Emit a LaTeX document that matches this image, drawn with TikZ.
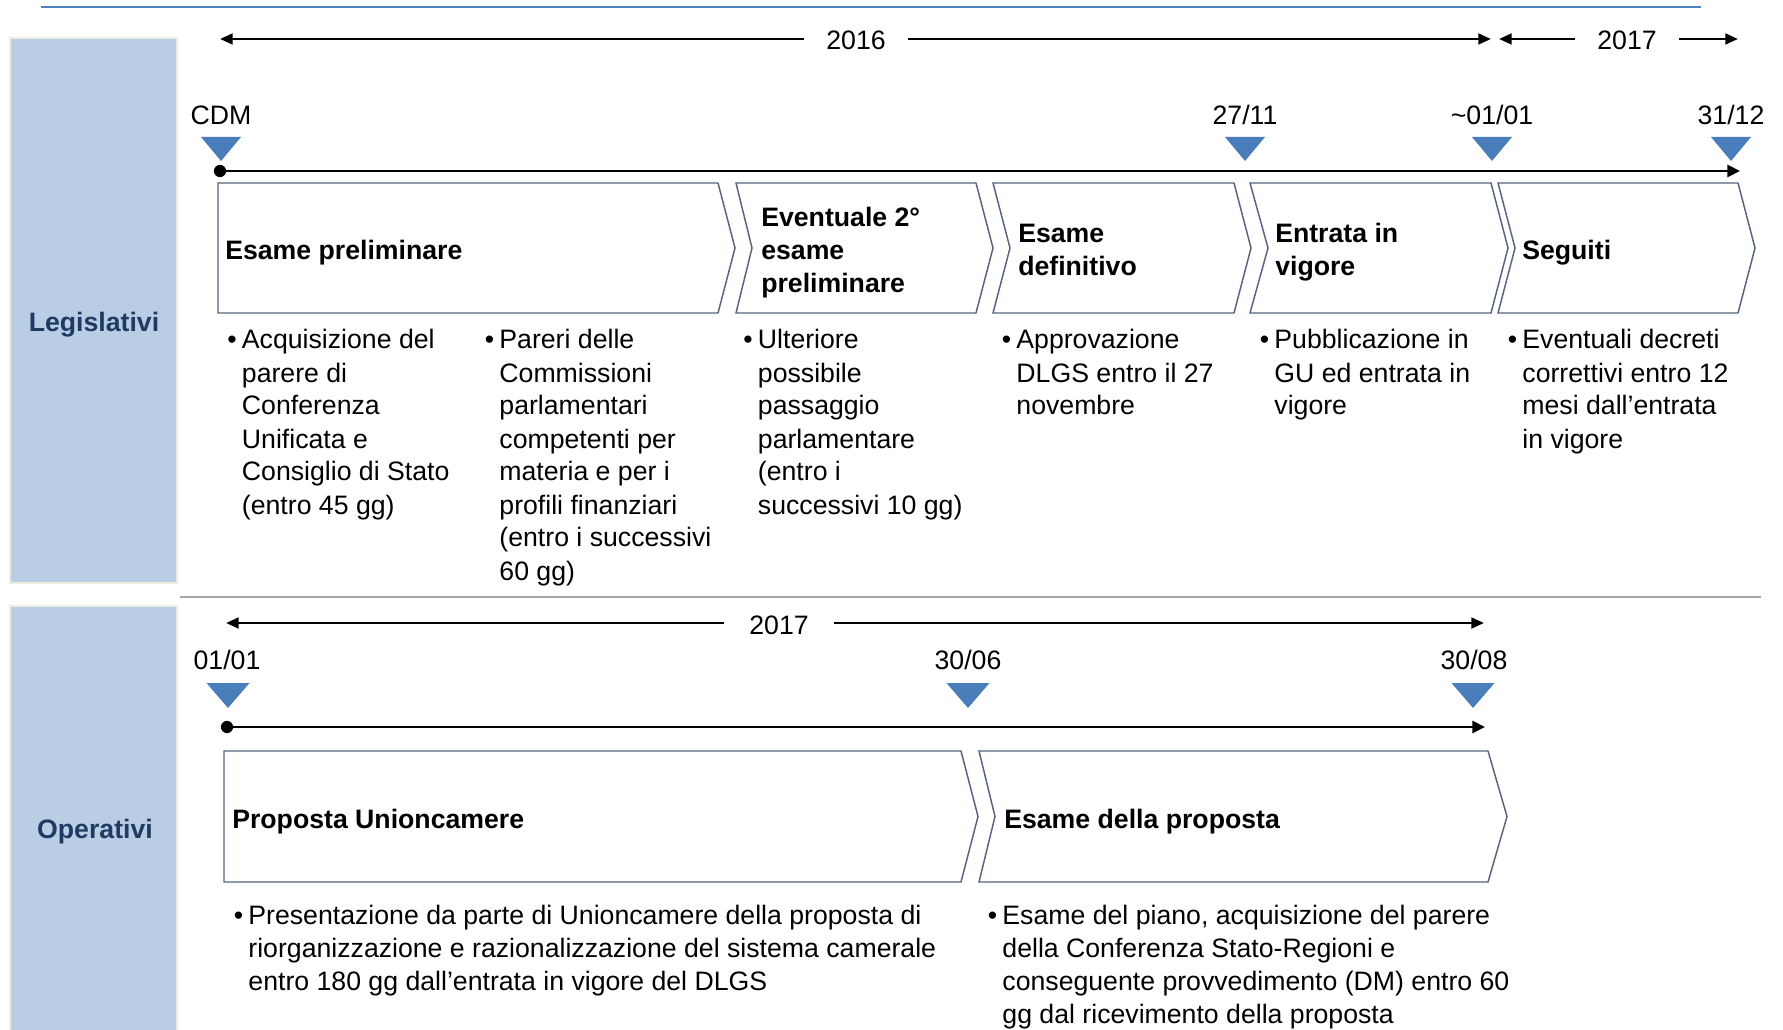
\documentclass[tikz,border=0pt]{standalone}
\usepackage{fontspec}
\setmainfont{Liberation Sans}
\usetikzlibrary{arrows.meta}
\definecolor{bandfill}{HTML}{B9CDE5}
\definecolor{bandedge}{HTML}{EEECE1}
\definecolor{bandtext}{HTML}{1F3B63}
\definecolor{topblue}{HTML}{4F81BD}
\definecolor{mkblue}{HTML}{4A7EBB}
\definecolor{chevedge}{HTML}{56657E}
\definecolor{sepgray}{HTML}{A6A6A6}
\newcommand\bulcol[1]{\begin{minipage}[t]{650pt}\hangindent=11pt\hangafter=1\noindent\makebox[11pt][l]{\textbullet}#1\end{minipage}}
\newcommand\titcol[1]{\begin{minipage}[t]{300pt}\raggedright\bfseries\fontsize{20}{24.4}\selectfont #1\end{minipage}}
\newcommand\chev[7]{\draw[chevline] (#1,#5) -- (#3,#5) -- (#4,#6) -- (#3,#7) -- (#1,#7) -- (#2,#6) -- cycle;}
\newcommand\mtri[4]{\fill[mkblue] ({#1-#4},#2) -- ({#1+#4},#2) -- (#1,#3) -- cycle;}
\begin{document}
\begin{tikzpicture}[x=0.75pt,y=-0.75pt,
  chevline/.style={draw=chevedge, line width=1.1pt, fill=white, line join=miter},
  yarr/.style={line width=2pt, -{Triangle[length=9.5pt,width=8pt]}},
  tline/.style={line width=2.2pt, -{Triangle[length=9.5pt,width=9pt]}},
  lab/.style={font=\fontsize{20}{24.75}\selectfont, inner sep=0pt, anchor=base},
  yearlab/.style={font=\fontsize{20}{24.75}\selectfont, inner ysep=0pt, inner xsep=16.5pt, anchor=base},
  body/.style={font=\fontsize{20}{24.75}\selectfont, inner sep=0pt, anchor=base west},
  bandlab/.style={font=\fontsize{20}{24.75}\selectfont\bfseries, text=bandtext, inner sep=0pt, anchor=base}]
\useasboundingbox (0,0) rectangle (1783,1030);
% top rule
\coordinate (r1) at (41,7); \coordinate (r2) at (1701,7);
\draw[topblue, line width=2pt] (r1) -- (r2);
% side bands
\fill[bandfill] (10,38) rectangle (177,583);
\draw[bandedge, line width=1.5pt] (10,38) rectangle (177,583);
\fill[bandfill] (10,606) rectangle (177,1030);
\draw[bandedge, line width=1.5pt] (10,1031) -- (10,606) -- (177,606) -- (177,1031);
\node[bandlab] (leg) at (94,331) {Legislativi};
\node[bandlab] (ope) at (95,838) {Operativi};
% separator
\coordinate (s1) at (180,597); \coordinate (s2) at (1761,597);
\draw[sepgray, line width=2.2pt] (s1) -- (s2);

% ===== Legislativi =====
\coordinate (y16l) at (220,39); \coordinate (y16r) at (1491,39);
\node[yearlab] (y16) at (856,50) {2016};
\draw[yarr] (y16.west |- y16l) -- (y16l);
\draw[yarr] (y16.east |- y16r) -- (y16r);
\coordinate (y17l) at (1499,39); \coordinate (y17r) at (1738,39);
\node[yearlab] (y17) at (1627,50) {2017};
\draw[yarr] (y17.west |- y17l) -- (y17l);
\draw[yarr] (y17.east |- y17r) -- (y17r);

\node[lab] (mcdm) at (221,125) {CDM};
\node[lab] (m2711) at (1245,125) {27/11};
\node[lab] (m0101) at (1492,125) {\textasciitilde 01/01};
\node[lab] (m3112) at (1731,125) {31/12};
\mtri{221}{137}{161}{20}
\mtri{1245}{137}{161}{20}
\mtri{1492}{137}{161}{20}
\mtri{1731}{137}{161}{20}

\coordinate (t1s) at (220,171); \coordinate (t1e) at (1740,171);
\draw[tline] (t1s) -- (t1e);
\fill (t1s) circle[radius=4.6pt];

\chev{218}{218}{718}{735}{183}{248}{313}
\chev{736}{752}{976}{993}{183}{248}{313}
\chev{993}{1010}{1234}{1251}{183}{248}{313}
\chev{1250}{1268}{1491}{1508}{183}{248}{313}
\chev{1498}{1515}{1738}{1755}{183}{248}{313}

\node[body] (c1) at (225,260) {\titcol{Esame preliminare}};
\node[body] (c2) at (761,227) {\titcol{Eventuale 2°\\esame\\preliminare}};
\node[body] (c3) at (1018,243) {\titcol{Esame\\definitivo}};
\node[body] (c4) at (1275,243) {\titcol{Entrata in\\vigore}};
\node[body] (c5) at (1522,260) {\titcol{Seguiti}};

\node[body] (b1) at (227,349) {\bulcol{Acquisizione del\\parere di\\Conferenza\\Unificata e\\Consiglio di Stato\\(entro 45 gg)}};
\node[body] (b2) at (484.5,349) {\bulcol{Pareri delle\\Commissioni\\parlamentari\\competenti per\\materia e per i\\profili finanziari\\(entro i successivi\\60 gg)}};
\node[body] (b3) at (743,349) {\bulcol{Ulteriore\\possibile\\passaggio\\parlamentare\\(entro i\\successivi 10 gg)}};
\node[body] (b4) at (1001.5,349) {\bulcol{Approvazione\\DLGS entro il 27\\novembre}};
\node[body] (b5) at (1259.5,349) {\bulcol{Pubblicazione in\\GU ed entrata in\\vigore}};
\node[body] (b6) at (1507.5,349) {\bulcol{Eventuali decreti\\correttivi entro 12\\mesi dall’entrata\\in vigore}};

% ===== Operativi =====
\coordinate (z17l) at (226,623); \coordinate (z17r) at (1484,623);
\node[yearlab, inner xsep=18.5pt] (z17) at (779,634) {2017};
\draw[yarr] (z17.west |- z17l) -- (z17l);
\draw[yarr] (z17.east |- z17r) -- (z17r);

\node[lab] (n0101) at (227,669) {01/01};
\node[lab] (n3006) at (968,669) {30/06};
\node[lab] (n3008) at (1474,669) {30/08};
\mtri{228}{683}{708}{21.5}
\mtri{968}{683}{708}{21.5}
\mtri{1473}{683}{708}{21.5}

\coordinate (t2s) at (227,727); \coordinate (t2e) at (1485,727);
\draw[tline] (t2s) -- (t2e);
\fill (t2s) circle[radius=4.6pt];

\chev{224}{224}{961}{978}{751}{816.5}{882}
\chev{979}{995}{1488}{1507}{751}{816.5}{882}

\node[body] (d1) at (232,828) {\titcol{Proposta Unioncamere}};
\node[body] (d2) at (1004,828) {\titcol{Esame della proposta}};

\node[body] (e1) at (233.5,924) {\bulcol{Presentazione da parte di Unioncamere della proposta di\\riorganizzazione e razionalizzazione del sistema camerale\\entro 180 gg dall’entrata in vigore del DLGS}};
\node[body] (e2) at (987.5,924) {\bulcol{Esame del piano, acquisizione del parere\\della Conferenza Stato-Regioni e\\conseguente provvedimento (DM) entro 60\\gg dal ricevimento della proposta}};
\end{tikzpicture}
\end{document}
